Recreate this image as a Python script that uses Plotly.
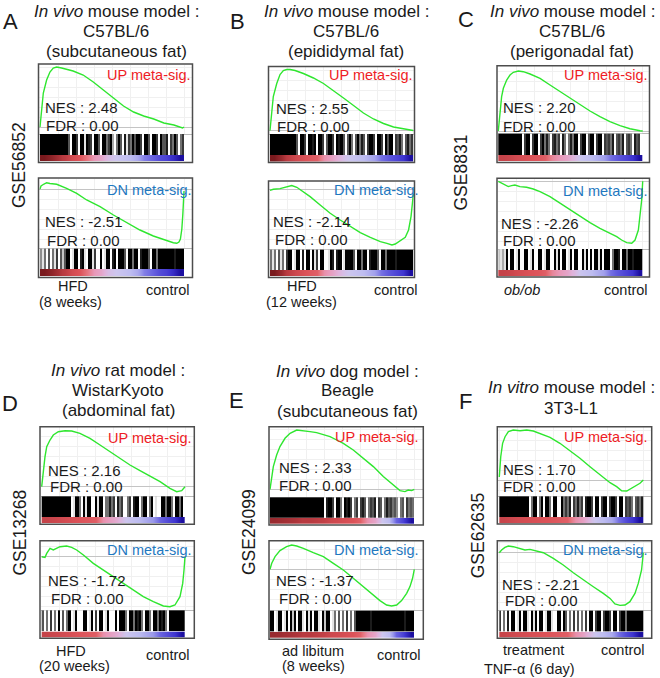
import plotly.graph_objects as go

# ======================= DATA =======================
# Panel header texts
A_title = ["<i>In vivo</i> mouse model :", "C57BL/6", "(subcutaneous fat)"]
B_title = ["<i>In vivo</i> mouse model :", "C57BL/6", "(epididymal fat)"]
C_title = ["<i>In vivo</i> mouse model :", "C57BL/6", "(perigonadal fat)"]
D_title = ["<i>In vivo</i> rat model :", "WistarKyoto", "(abdominal fat)"]
E_title = ["<i>In vivo</i> dog model :", "Beagle", "(subcutaneous fat)"]
F_title = ["<i>In vitro</i> mouse model :", "3T3-L1"]

gse_ids = ["GSE56852", "", "GSE8831", "GSE13268", "GSE24099", "GSE62635"]

A_groups = ["HFD", "(8 weeks)", "control"]
B_groups = ["HFD", "(12 weeks)", "control"]
C_groups = ["<i>ob/ob</i>", "control"]
D_groups = ["HFD", "(20 weeks)", "control"]
E_groups = ["ad libitum", "(8 weeks)", "control"]
F_groups = ["treatment", "TNF-α (6 day)", "control"]

set_names = ["UP meta-sig.", "DN meta-sig."]
nes_up = [2.48, 2.55, 2.20, 2.16, 2.33, 1.70]
fdr_up = [0.00, 0.00, 0.00, 0.00, 0.00, 0.00]
nes_dn = [-2.51, -2.14, -2.26, -1.72, -1.37, -2.21]
fdr_dn = [0.00, 0.00, 0.00, 0.00, 0.00, 0.00]

# Running enrichment score (rank as fraction of ranked list)
A_up_rank = [0, .012, .023, .046, .069, .092, .116, .15, .185, .23, .30, .37, .44, .51, .58, .65, .72, .79, .86, .93, .97, .99, 1.0]
A_up_es = [0, .17, .34, .47, .55, .59, .60, .59, .58, .56, .52, .45, .37, .29, .21, .15, .11, .08, .04, .02, 0, -.01, 0]
A_dn_rank = [0, .007, .028, .046, .069, .116, .185, .255, .324, .417, .51, .60, .694, .787, .88, .926, .95, .965, .975, .985, .992, .997, 1.0]
A_dn_es = [0, .03, .05, .063, .055, .047, .007, -.043, -.11, -.177, -.26, -.337, -.41, -.47, -.517, -.537, -.543, -.53, -.50, -.40, -.25, -.10, -.02]

B_up_rank = [0, .012, .023, .047, .07, .093, .117, .14, .175, .233, .303, .373, .443, .513, .583, .652, .722, .792, .862, .932, 1.0]
B_up_es = [0, .21, .34, .47, .56, .60, .61, .61, .60, .57, .525, .47, .40, .325, .25, .175, .115, .07, .035, .015, 0]
B_dn_rank = [0, .023, .07, .117, .152, .187, .233, .28, .35, .42, .49, .56, .63, .70, .77, .816, .851, .874, .909, .944, .967, .984, .993, 1.0]
B_dn_es = [-.01, 0, .007, .027, .037, .02, -.023, -.073, -.157, -.24, -.307, -.373, -.433, -.48, -.523, -.54, -.557, -.547, -.513, -.48, -.407, -.273, -.15, -.05]

C_up_rank = [0, .012, .023, .035, .058, .081, .104, .139, .173, .22, .289, .358, .427, .497, .566, .635, .704, .773, .843, .912, .981, 1.0]
C_up_es = [0, .21, .343, .427, .51, .56, .587, .60, .593, .57, .527, .46, .393, .327, .26, .20, .143, .093, .053, .023, .003, 0]
C_dn_rank = [0, .023, .046, .069, .092, .115, .15, .196, .242, .289, .358, .427, .497, .566, .635, .704, .773, .82, .854, .889, .924, .947, .97, .981, .993, 1.0]
C_dn_es = [0, -.02, -.037, -.053, -.043, -.037, -.053, -.06, -.077, -.103, -.153, -.22, -.287, -.353, -.413, -.47, -.52, -.553, -.587, -.613, -.62, -.587, -.487, -.353, -.187, 0]

D_up_rank = [0, .012, .023, .035, .058, .081, .116, .163, .209, .267, .337, .407, .477, .547, .616, .686, .756, .826, .895, .942, .977, 1.0]
D_up_es = [0, .167, .30, .40, .467, .517, .55, .56, .557, .533, .483, .417, .35, .283, .217, .16, .107, .05, -.017, -.05, -.04, 0]
D_dn_rank = [0, .023, .035, .047, .058, .081, .105, .128, .174, .209, .244, .291, .36, .43, .50, .57, .64, .709, .779, .849, .895, .93, .965, .984, .993, 1.0]
D_dn_es = [0, -.007, .033, .067, .083, .067, .083, .10, .107, .093, .067, .017, -.067, -.133, -.20, -.267, -.333, -.40, -.45, -.493, -.50, -.483, -.40, -.267, -.133, 0]

E_up_rank = [0, .012, .023, .046, .069, .104, .139, .185, .231, .277, .323, .37, .416, .462, .508, .577, .647, .716, .785, .855, .901, .935, .958, .982, 1.0]
E_up_es = [0, .127, .227, .343, .427, .51, .56, .593, .587, .577, .567, .543, .527, .493, .46, .393, .31, .227, .127, .043, -.013, -.023, -.007, -.013, 0]
E_dn_rank = [0, .012, .035, .069, .115, .15, .185, .231, .30, .37, .439, .508, .577, .647, .716, .762, .808, .843, .878, .912, .947, .97, .988, 1.0]
E_dn_es = [0, .06, .127, .187, .227, .243, .233, .21, .167, .127, .06, -.007, -.09, -.173, -.257, -.313, -.357, -.367, -.357, -.313, -.24, -.173, -.09, 0]

F_up_rank = [0, .01, .023, .04, .063, .097, .144, .19, .236, .283, .352, .421, .49, .56, .63, .699, .769, .815, .85, .885, .907, .931, .954, .977, 1.0]
F_up_es = [.03, .233, .367, .433, .483, .50, .493, .50, .49, .467, .427, .367, .293, .217, .133, .05, -.027, -.067, -.107, -.11, -.093, -.067, -.05, -.033, 0]
F_dn_rank = [0, .016, .039, .063, .097, .144, .178, .213, .259, .306, .375, .444, .514, .583, .653, .722, .769, .803, .838, .873, .907, .942, .965, .988, .995, 1.0]
F_dn_es = [0, .027, .053, .067, .06, .043, .027, .033, .02, 0, -.057, -.123, -.20, -.273, -.34, -.407, -.457, -.513, -.527, -.523, -.49, -.407, -.307, -.173, -.09, 0]

# Hit density along the ranked list (0 = no hit, 9 = dense hits), left -> right
A_up_hits = "9999999999999" "96099709919870996099" "579305960817596" "99709960997096" "6807596057"
A_dn_hits = "4150605170626" "990199089109917009019908909" "9960995990899960995999" "9999989999"
B_up_hits = "999999999999" "960997099890997069970989960" "69506958607" "99709970969907" "68506857"
B_dn_hits = "515061507" "9901990809909170990019808990199" "9960995990899960995999" "9899999999"
C_up_hits = "9999999999" "9907990799079" "585078570850585" "9907990699079907" "675806758067508670"
C_dn_hits = "2131" "90990190099019009901990091909901909900919090991909" "99059980995998" "9999"
D_up_hits = "9999999999999" "99019950919900919905" "58570857005708" "99059905901009959" "95099590"
D_dn_hits = "6050705090605" "990190009901907099019000909" "995099598950995099598950" "99999999"
E_up_hits = "9999999999999999999999999" "990899709950989705" "707860576807605867" "56405607565"
E_dn_hits = "99019901909290991091909910929901" "50605070506" "99999998999999999999999989999"
F_up_hits = "9999999999999" "99059905909950990095" "75807585708" "99709907990799709907" "67506758"
F_dn_hits = "705080" "990190991091909901991009909" "605070605070" "9907990799709907995" "99999999"

# Ranking-metric colour bar (+1 = strongly up in treatment, -1 = up in control)
A_metric = [1.0, .97, .93, .88, .8, .75, .6, .4, .3, .1, 0, -.1, -.2, -.3, -.5, -.6, -.7, -.75, -.85, -1.0]
B_metric = [1.0, .95, .88, .82, .78, .74, .7, .45, .35, .2, .05, -.05, -.15, -.25, -.35, -.55, -.65, -.72, -.8, -1.0]
C_metric = [.85, .83, .8, .78, .76, .74, .7, .5, .4, .3, .15, -.05, -.15, -.25, -.35, -.55, -.65, -.72, -.8, -1.0]
D_metric = [.85, .83, .81, .79, .77, .75, .73, .71, .45, .35, .25, .05, -.1, -.2, -.3, -.4, -.6, -.7, -.8, -1.0]
E_metric = [.95, .94, .93, .92, .9, .9, .88, .86, .82, .8, .78, .76, .7, .45, .3, .0, -.2, -.6, -.75, -1.0]
F_metric = [.84, .82, .8, .79, .78, .77, .76, .74, .72, .7, .45, .35, .15, -.05, -.2, -.3, -.55, -.7, -.8, -1.0]

# ======================= LAYOUT (pixels) =======================
W, H = 660, 678
FONT = "Liberation Sans, Arial, Helvetica, sans-serif"
GREEN = "#2fe62f"
UP_COL = "#ee1c25"
DN_COL = "#1f78c0"
METRIC_SCALE = [[0.0, "#1c0fa0"], [0.1, "#3f35d0"], [0.2, "#6a64e0"], [0.3, "#9a98ea"],
                [0.4, "#bdbcf0"], [0.5, "#cdc6ee"], [0.6, "#e0b2da"], [0.7, "#e898b8"],
                [0.8, "#e67680"], [0.88, "#dc5258"], [0.95, "#b83a40"], [1.0, "#7a1a1e"]]

GEOM = {
    "A": dict(bx=(38.5, 192.5), ix=(40, 184),
              up=dict(top=64, cb=133.5, bb=155, gb=161, bot=162.5, zero=127, nes=(45, 107.3), fdr=(45.7, 125), lab=(192, 75)),
              dn=dict(top=178, cb=248, bb=269, gb=276, bot=277.5, zero=189, nes=(45, 221.7), fdr=(46.7, 240), lab=(193, 190)),
              title=(116, [11.7, 31.7, 51.7]), letter=(10, 21), gse=(19, 165),
              groups=[(72.5, 286.5), (70, 301.5), (167.5, 290)]),
    "B": dict(bx=(268.5, 414.5), ix=(270, 413.3),
              up=dict(top=66.5, cb=133.5, bb=155, gb=161.5, bot=162.5, zero=130.5, nes=(276, 108.3), fdr=(276.7, 126), lab=(414, 75)),
              dn=dict(top=181, cb=249, bb=270, gb=276, bot=277.5, zero=189.3, nes=(272.7, 221.7), fdr=(275, 239.3), lab=(420, 190)),
              title=(346, [11.7, 31.7, 51.7]), letter=(237.5, 21), gse=None,
              groups=[(301.5, 286.5), (301, 301.5), (396.5, 290)]),
    "C": dict(bx=(497, 649.5), ix=(498.3, 642.7),
              up=dict(top=65.7, cb=133, bb=155, gb=161.3, bot=162.5, zero=131, nes=(502.7, 107.3), fdr=(503.3, 126), lab=(649.3, 75)),
              dn=dict(top=178.3, cb=248.5, bb=270, gb=276, bot=277, zero=181.3, nes=(500.7, 223.3), fdr=(503.3, 240.7), lab=(649.3, 190.7)),
              title=(572, [11.7, 31.7, 51.7]), letter=(465.5, 20), gse=(460, 172.5),
              groups=[(521.7, 290), (625.5, 290)]),
    "D": dict(bx=(40, 194.3), ix=(41.7, 185),
              up=dict(top=426.7, cb=495.7, bb=517, gb=523, bot=524.3, zero=486.7, nes=(47.7, 470), fdr=(50, 486.7), lab=(192.7, 438.3)),
              dn=dict(top=540.7, cb=609.7, bb=631.5, gb=637.5, bot=638.3, zero=556.7, nes=(48.3, 580.7), fdr=(50.7, 598.3), lab=(192.7, 550)),
              title=(118, [370, 390, 410]), letter=(9.5, 403.5), gse=(19, 532.5),
              groups=[(70.8, 651), (74, 665.5), (168, 655)]),
    "E": dict(bx=(269, 423.3), ix=(270, 414.3),
              up=dict(top=426.7, cb=496.7, bb=517.7, gb=524, bot=525, zero=489.3, nes=(279.3, 467.3), fdr=(279.3, 485), lab=(420, 437.3)),
              dn=dict(top=540.7, cb=610, bb=631.7, gb=638, bot=639.3, zero=569.3, nes=(276, 580.7), fdr=(279.3, 598.3), lab=(420, 550)),
              title=(347, [371.7, 390.7, 411]), letter=(236.8, 400.5), gse=(248.3, 531.7),
              groups=[(312.8, 651), (313, 665.5), (398.7, 655)]),
    "F": dict(bx=(497.3, 651.7), ix=(499.3, 643.3),
              up=dict(top=426.7, cb=495.7, bb=517, gb=523, bot=524, zero=480, nes=(502.7, 469.3), fdr=(503.3, 486.7), lab=(649.3, 436.7)),
              dn=dict(top=540.7, cb=610, bb=631.7, gb=637.5, bot=638.3, zero=552.7, nes=(502, 584), fdr=(505, 600.7), lab=(649.3, 550)),
              title=(571, [387.3, 408.3]), letter=(465.8, 401.5), gse=(478.3, 535),
              groups=[(533.7, 650), (529, 668.5), (623.3, 650)]),
}

# Assemble per-panel data built from the named lists above
PANELS = [
    ("A", A_title, A_groups, (A_up_rank, A_up_es, A_up_hits), (A_dn_rank, A_dn_es, A_dn_hits), A_metric),
    ("B", B_title, B_groups, (B_up_rank, B_up_es, B_up_hits), (B_dn_rank, B_dn_es, B_dn_hits), B_metric),
    ("C", C_title, C_groups, (C_up_rank, C_up_es, C_up_hits), (C_dn_rank, C_dn_es, C_dn_hits), C_metric),
    ("D", D_title, D_groups, (D_up_rank, D_up_es, D_up_hits), (D_dn_rank, D_dn_es, D_dn_hits), D_metric),
    ("E", E_title, E_groups, (E_up_rank, E_up_es, E_up_hits), (E_dn_rank, E_dn_es, E_dn_hits), E_metric),
    ("F", F_title, F_groups, (F_up_rank, F_up_es, F_up_hits), (F_dn_rank, F_dn_es, F_dn_hits), F_metric),
]

fig = go.Figure()
layout = dict(width=W, height=H, margin=dict(l=0, r=0, t=0, b=0, pad=0),
              paper_bgcolor="white", plot_bgcolor="white", showlegend=False,
              shapes=[], annotations=[], font=dict(family=FONT, color="#1a1a1a"))
counter = [0]


def add_axes(x0, x1, ytop, ybot, xr, yr, grid=False, sep=False, zero=False):
    counter[0] += 1
    k = counter[0]
    s = "" if k == 1 else str(k)
    base = dict(showticklabels=False, ticks="", fixedrange=True, showline=False,
                zeroline=False, showgrid=False)
    xa = dict(base, domain=[x0 / W, x1 / W], range=xr, anchor="y" + s)
    ya = dict(base, domain=[1 - ybot / H, 1 - ytop / H], range=yr, anchor="x" + s)
    if grid:
        xa.update(showgrid=True, gridcolor="#f0f0f0", gridwidth=1, tick0=0, dtick=0.125)
        ya.update(showgrid=True, gridcolor="#f0f0f0", gridwidth=1, tick0=0, dtick=0.1)
    if sep:
        xa.update(showline=True, linecolor="#b8b8b8", linewidth=1)
    if zero:
        ya.update(zeroline=True, zerolinecolor="#c4c4c4", zerolinewidth=1)
    layout["xaxis" + s] = xa
    layout["yaxis" + s] = ya
    return "x" + s, "y" + s


def ann(text, x, y, size, xanchor="center", yanchor="middle", color="#1a1a1a", angle=0):
    layout["annotations"].append(dict(
        text=text, x=x / W, y=1 - y / H, xref="paper", yref="paper",
        xanchor=xanchor, yanchor=yanchor, showarrow=False, textangle=angle,
        font=dict(family=FONT, size=size, color=color), borderpad=0))


for idx, (pid, title, groups, up, dn, metric) in enumerate(PANELS):
    g = GEOM[pid]
    bx0, bx1 = g["bx"]
    ix0, ix1 = g["ix"]
    d0, d1 = bx0 + 0.75, bx1 - 0.75
    span = ix1 - ix0
    xr = [(d0 - ix0) / span, (d1 - ix0) / span]

    for kind, (rank, es, hits), nes, fdr, lab_col in (
            ("up", up, nes_up[idx], fdr_up[idx], UP_COL),
            ("dn", dn, nes_dn[idx], fdr_dn[idx], DN_COL)):
        b = g[kind]
        # enrichment curve
        yr = [(b["zero"] - b["cb"]) / 100.0, (b["zero"] - b["top"] - 0.75) / 100.0]
        xa, ya = add_axes(d0, d1, b["top"] + 0.75, b["cb"], xr, yr, grid=True, sep=True, zero=True)
        fig.add_trace(go.Scatter(x=rank, y=es, mode="lines", xaxis=xa, yaxis=ya,
                                 line=dict(color=GREEN, width=1.4), hoverinfo="skip"))
        # hit barcode
        vals = [int(c) for c in hits]
        n = len(vals)
        centers = [(i + 0.5) / n for i in range(n)]
        xa, ya = add_axes(d0, d1, b["cb"] + 0.5, b["bb"], xr, [-0.5, 0.5])
        fig.add_trace(go.Heatmap(z=[vals], x=centers, y=[0], xaxis=xa, yaxis=ya,
                                 colorscale=[[0, "#ffffff"], [1, "#000000"]],
                                 zmin=0, zmax=9, showscale=False, hoverinfo="skip"))
        # ranked-list colour bar
        m = len(metric)
        mc = [(i + 0.5) / m for i in range(m)]
        xa, ya = add_axes(d0, d1, b["bb"], b["gb"], xr, [-0.5, 1.5])
        fig.add_trace(go.Heatmap(z=[metric, metric], x=mc, y=[0, 1], xaxis=xa, yaxis=ya,
                                 colorscale=METRIC_SCALE, zmin=-1, zmax=1, zsmooth="best",
                                 showscale=False, hoverinfo="skip"))
        # frame
        layout["shapes"].append(dict(type="rect", xref="paper", yref="paper",
                                     x0=bx0 / W, x1=bx1 / W, y0=1 - b["bot"] / H, y1=1 - b["top"] / H,
                                     line=dict(color="#4d4d4d", width=1.5), fillcolor="rgba(0,0,0,0)",
                                     layer="above"))
        # texts
        name = set_names[0] if kind == "up" else set_names[1]
        ann(name, b["lab"][0], b["lab"][1], 14.5, xanchor="right", color=lab_col)
        ann(f"NES : {nes:.2f}", b["nes"][0] - 1, b["nes"][1], 15, xanchor="left")
        ann(f"FDR : {fdr:.2f}", b["fdr"][0] - 1, b["fdr"][1], 15, xanchor="left")

    # panel header
    tx, tys = g["title"]
    for line, ty in zip(title, tys):
        ann(line, tx, ty, 17)
    ann(pid, g["letter"][0], g["letter"][1], 22)
    if g["gse"] is not None:
        ann(gse_ids[idx], g["gse"][0], g["gse"][1], 17.5, angle=-90)
    for txt, (gx, gy) in zip(groups, g["groups"]):
        ann(txt, gx, gy, 14.5)

fig.update_layout(**layout)
fig.write_html("out.html", include_plotlyjs=True,
               config=dict(displayModeBar=False, staticPlot=True),
               post_script="document.body.style.margin='0px';document.body.style.padding='0px';")
